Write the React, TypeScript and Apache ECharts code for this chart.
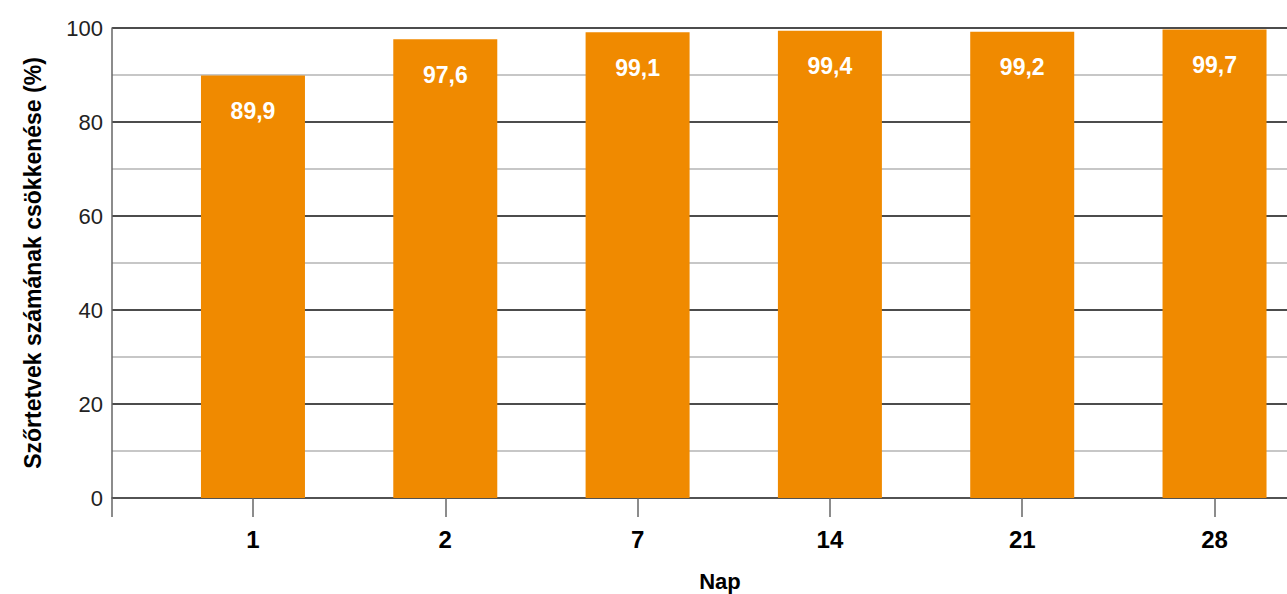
import React, { useEffect, useRef } from "react";
import * as echarts from "echarts";

const categories = ["1", "2", "7", "14", "21", "28"];
const values = [89.9, 97.6, 99.1, 99.4, 99.2, 99.7];
const yName = "Szőrtetvek számának csökkenése (%)";
const xName = "Nap";

const FONT = '"Liberation Sans", Arial, sans-serif';

export default function App() {
  const ref = useRef<HTMLDivElement>(null);
  useEffect(() => {
    document.body.style.margin = "0";
    const chart = echarts.init(ref.current!, null, { renderer: "svg" });
    const xMin = -0.733;
    const xMax = 5.59;
    const idx = categories.map((_, i) => i);
    chart.setOption({
      animation: false,
      textStyle: { fontFamily: FONT },
      grid: { left: 112, right: 0, top: 28, bottom: 96, outerBoundsMode: "none", containLabel: false },
      xAxis: {
        type: "value",
        min: xMin,
        max: xMax,
        name: xName,
        nameLocation: "middle",
        nameGap: 72,
        nameTextStyle: { fontFamily: FONT, fontWeight: "bold", fontSize: 22, color: "#000" },
        axisLine: { show: true, onZero: false, lineStyle: { color: "#555", width: 1.5 } },
        axisTick: { show: true, customValues: [xMin, ...idx], length: 19, lineStyle: { color: "#666", width: 1.5 } },
        axisLabel: {
          customValues: idx,
          margin: 29,
          fontFamily: FONT,
          fontWeight: "bold",
          fontSize: 24,
          color: "#000",
          formatter: (v: number) => categories[Math.round(v)] ?? "",
        },
        splitLine: { show: false },
      },
      yAxis: {
        type: "value",
        min: 0,
        max: 100,
        interval: 10,
        name: yName,
        nameLocation: "middle",
        nameGap: 68,
        nameTextStyle: { fontFamily: FONT, fontWeight: "bold", fontSize: 23, color: "#000" },
        axisLine: { show: true, onZero: false, lineStyle: { color: "#666", width: 1.5 } },
        axisTick: { show: false },
        axisLabel: {
          margin: 9,
          fontFamily: FONT,
          fontSize: 22,
          color: "#222",
          formatter: (v: number) => (v % 20 === 0 ? String(v) : ""),
        },
        splitLine: { show: true, lineStyle: { color: ["#111", "#b4b4b4"], width: 1.5 } },
      },
      series: [
        {
          type: "bar",
          data: values.map((v, i) => [i, v]),
          barWidth: 104,
          itemStyle: { color: "#F08A00" },
          label: {
            show: true,
            position: "insideTop",
            distance: 24,
            fontFamily: FONT,
            fontWeight: "bold",
            fontSize: 23,
            color: "#fff",
            formatter: (p: any) => String(p.value[1]).replace(".", ","),
          },
        },
      ],
    });
    return () => chart.dispose();
  }, []);
  return (
    <div style={{ width: 1287, height: 594, overflow: "hidden", position: "relative" }}>
      <div ref={ref} style={{ width: 1328, height: 594, position: "absolute", left: 0, top: 0 }} />
    </div>
  );
}
